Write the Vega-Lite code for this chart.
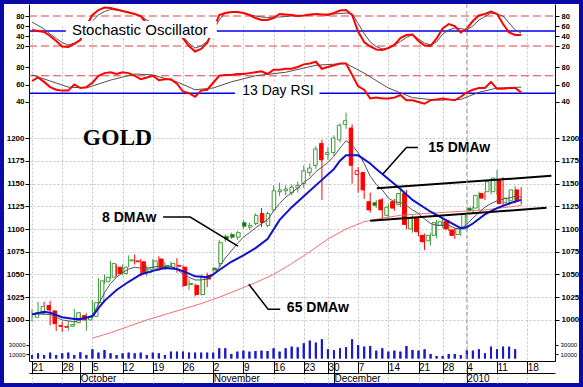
{
"$schema": "https://vega.github.io/schema/vega-lite/v6.json",
"width": 575, "height": 379,
"autosize": {"type": "none"},
"padding": 4,
"background": "#0a0aa8",
"config": {
  "view": {"fill": "#ffffff", "stroke": null},
  "axis": {"labelFont": "Liberation Sans", "labelColor": "#000000", "domainColor": "#000000", "tickColor": "#000000", "labelFlush": false, "labelOverlap": false, "labelBound": false, "grid": false}
},
"datasets": {
  "candles": [
    {"i":0,"o":1003,"h":1012,"l":998,"c":1008},{"i":1,"o":1007,"h":1020,"l":1004,"c":1015},{"i":2,"o":1016,"h":1020,"l":1006,"c":1011},{"i":3,"o":1010,"h":1021,"l":994,"c":996},{"i":4,"o":993,"h":999,"l":988,"c":994},{"i":5,"o":992,"h":998,"l":987,"c":993},{"i":6,"o":993,"h":999,"l":988,"c":995},{"i":7,"o":997,"h":1012,"l":994,"c":1008},{"i":8,"o":1005,"h":1008,"l":998,"c":1000},{"i":9,"o":1000,"h":1008,"l":988,"c":1004},
    {"i":10,"o":1004,"h":1022,"l":1002,"c":1019},{"i":11,"o":1019,"h":1046,"l":1017,"c":1043},{"i":12,"o":1042,"h":1050,"l":1040,"c":1047},{"i":13,"o":1047,"h":1065,"l":1045,"c":1062},{"i":14,"o":1058,"h":1061,"l":1048,"c":1051},{"i":15,"o":1051,"h":1061,"l":1049,"c":1058},{"i":16,"o":1065,"h":1071,"l":1058,"c":1066},{"i":17,"o":1064,"h":1072,"l":1061,"c":1065},{"i":18,"o":1064,"h":1067,"l":1048,"c":1051},{"i":19,"o":1052,"h":1060,"l":1048,"c":1056},
    {"i":20,"o":1056,"h":1067,"l":1053,"c":1065},{"i":21,"o":1067,"h":1070,"l":1054,"c":1057},{"i":22,"o":1058,"h":1064,"l":1055,"c":1060},{"i":23,"o":1058,"h":1064,"l":1056,"c":1062},{"i":24,"o":1059,"h":1068,"l":1052,"c":1060},{"i":25,"o":1058,"h":1060,"l":1036,"c":1038},{"i":26,"o":1039,"h":1045,"l":1033,"c":1040},{"i":27,"o":1038,"h":1040,"l":1026,"c":1028},{"i":28,"o":1028,"h":1050,"l":1027,"c":1048},{"i":29,"o":1049,"h":1052,"l":1036,"c":1045},
    {"i":30,"o":1057,"h":1058,"l":1052,"c":1055},{"i":31,"o":1062,"h":1088,"l":1058,"c":1085},{"i":32,"o":1092,"h":1094,"l":1086,"c":1089},{"i":33,"o":1094,"h":1096,"l":1089,"c":1091},{"i":34,"o":1091,"h":1098,"l":1088,"c":1096},{"i":35,"o":1107,"h":1110,"l":1100,"c":1103},{"i":36,"o":1102,"h":1107,"l":1099,"c":1104},{"i":37,"o":1106,"h":1117,"l":1104,"c":1115},{"i":38,"o":1117,"h":1123,"l":1102,"c":1107},{"i":39,"o":1104,"h":1119,"l":1102,"c":1117},
    {"i":40,"o":1121,"h":1148,"l":1119,"c":1142},{"i":41,"o":1141,"h":1151,"l":1136,"c":1143},{"i":42,"o":1142,"h":1148,"l":1137,"c":1144},{"i":43,"o":1140,"h":1149,"l":1137,"c":1146},{"i":44,"o":1145,"h":1152,"l":1140,"c":1148},{"i":45,"o":1150,"h":1170,"l":1145,"c":1164},{"i":46,"o":1162,"h":1172,"l":1158,"c":1167},{"i":47,"o":1170,"h":1191,"l":1166,"c":1188},{"i":48,"o":1194,"h":1198,"l":1132,"c":1176},{"i":49,"o":1182,"h":1190,"l":1176,"c":1184},
    {"i":50,"o":1184,"h":1203,"l":1180,"c":1200},{"i":51,"o":1198,"h":1216,"l":1195,"c":1214},{"i":52,"o":1215,"h":1228,"l":1210,"c":1219},{"i":53,"o":1211,"h":1215,"l":1150,"c":1170},{"i":54,"o":1160,"h":1168,"l":1140,"c":1164},{"i":55,"o":1162,"h":1163,"l":1133,"c":1143},{"i":56,"o":1130,"h":1140,"l":1118,"c":1121},{"i":57,"o":1129,"h":1132,"l":1123,"c":1126},{"i":58,"o":1132,"h":1134,"l":1110,"c":1121},{"i":59,"o":1115,"h":1128,"l":1112,"c":1124},
    {"i":60,"o":1130,"h":1133,"l":1120,"c":1123},{"i":61,"o":1127,"h":1145,"l":1124,"c":1139},{"i":62,"o":1139,"h":1143,"l":1100,"c":1105},{"i":63,"o":1100,"h":1115,"l":1096,"c":1112},{"i":64,"o":1112,"h":1114,"l":1092,"c":1097},{"i":65,"o":1093,"h":1095,"l":1077,"c":1086},{"i":66,"o":1087,"h":1096,"l":1082,"c":1093},{"i":67,"o":1093,"h":1110,"l":1090,"c":1107},{"i":68,"o":1104,"h":1111,"l":1101,"c":1108},{"i":69,"o":1108,"h":1110,"l":1098,"c":1100},
    {"i":70,"o":1099,"h":1101,"l":1089,"c":1093},{"i":71,"o":1094,"h":1102,"l":1092,"c":1100},{"i":72,"o":1100,"h":1118,"l":1098,"c":1116},{"i":73,"o":1123,"h":1125,"l":1118,"c":1120},{"i":74,"o":1123,"h":1141,"l":1120,"c":1137},{"i":75,"o":1139,"h":1141,"l":1132,"c":1134},{"i":76,"o":1141,"h":1155,"l":1138,"c":1152},{"i":77,"o":1141,"h":1165,"l":1138,"c":1156},{"i":78,"o":1154,"h":1157,"l":1125,"c":1128},{"i":79,"o":1129,"h":1137,"l":1126,"c":1134},
    {"i":80,"o":1131,"h":1147,"l":1128,"c":1143},{"i":81,"o":1143,"h":1146,"l":1127,"c":1131}
  ],
  "volume": [
    {"i":0,"v":7800},{"i":1,"v":11500},{"i":2,"v":7800},{"i":3,"v":13000},{"i":4,"v":7800},{"i":5,"v":11500},{"i":6,"v":13000},{"i":7,"v":7800},{"i":8,"v":13700},{"i":9,"v":7800},
    {"i":10,"v":20400},{"i":11,"v":13000},{"i":12,"v":18900},{"i":13,"v":11500},{"i":14,"v":7800},{"i":15,"v":11500},{"i":16,"v":13000},{"i":17,"v":11500},{"i":18,"v":13000},{"i":19,"v":7800},
    {"i":20,"v":13000},{"i":21,"v":11500},{"i":22,"v":7800},{"i":23,"v":15200},{"i":24,"v":15200},{"i":25,"v":15200},{"i":26,"v":13000},{"i":27,"v":13000},{"i":28,"v":13000},{"i":29,"v":13000},
    {"i":30,"v":13000},{"i":31,"v":22600},{"i":32,"v":22600},{"i":33,"v":10000},{"i":34,"v":15200},{"i":35,"v":17400},{"i":36,"v":15200},{"i":37,"v":16700},{"i":38,"v":17400},{"i":39,"v":16700},
    {"i":40,"v":22600},{"i":41,"v":15200},{"i":42,"v":22600},{"i":43,"v":26300},{"i":44,"v":24800},{"i":45,"v":33700},{"i":46,"v":39600},{"i":47,"v":35200},{"i":48,"v":42600},{"i":49,"v":20400},
    {"i":50,"v":18900},{"i":51,"v":22600},{"i":52,"v":24800},{"i":53,"v":42600},{"i":54,"v":30000},{"i":55,"v":26300},{"i":56,"v":27800},{"i":57,"v":17400},{"i":58,"v":22600},{"i":59,"v":15200},
    {"i":60,"v":17400},{"i":61,"v":15200},{"i":62,"v":27800},{"i":63,"v":18900},{"i":64,"v":17400},{"i":65,"v":20400},{"i":66,"v":10000},{"i":67,"v":5600},{"i":68,"v":5600},{"i":69,"v":10000},
    {"i":70,"v":10000},{"i":71,"v":7800},{"i":72,"v":18900},{"i":73,"v":17400},{"i":74,"v":20400},{"i":75,"v":11500},{"i":76,"v":26300},{"i":77,"v":20400},{"i":78,"v":26300},{"i":79,"v":26300},{"i":80,"v":20400}
  ],
  "dma8": [
    {"i":0,"v":1007},{"i":3,"v":1006},{"i":5,"v":1000},{"i":7,"v":998},{"i":9,"v":1002},{"i":10,"v":1005},{"i":11,"v":1017},{"i":12,"v":1030},{"i":13,"v":1040},{"i":14,"v":1047},{"i":15,"v":1052},{"i":16,"v":1056},{"i":17,"v":1058},{"i":18,"v":1057},{"i":19,"v":1057},{"i":20,"v":1058},{"i":21,"v":1059},{"i":22,"v":1059},{"i":23,"v":1059},{"i":24,"v":1056},{"i":25,"v":1050},{"i":26,"v":1047},{"i":27,"v":1044},{"i":28,"v":1044},{"i":29,"v":1045},{"i":30,"v":1049},{"i":31,"v":1058},{"i":32,"v":1068},{"i":33,"v":1076},{"i":34,"v":1084},{"i":35,"v":1091},{"i":36,"v":1096},{"i":37,"v":1101},{"i":38,"v":1106},{"i":39,"v":1110},{"i":40,"v":1120},{"i":41,"v":1128},{"i":42,"v":1135},{"i":43,"v":1140},{"i":44,"v":1145},{"i":45,"v":1151},{"i":46,"v":1156},{"i":47,"v":1163},{"i":48,"v":1168},{"i":49,"v":1173},{"i":50,"v":1180},{"i":51,"v":1189},{"i":52,"v":1197},{"i":53,"v":1192},{"i":54,"v":1184},{"i":55,"v":1172},{"i":56,"v":1158},{"i":57,"v":1149},{"i":58,"v":1143},{"i":59,"v":1134},{"i":60,"v":1130},{"i":61,"v":1129},{"i":62,"v":1126},{"i":63,"v":1121},{"i":64,"v":1117},{"i":65,"v":1111},{"i":66,"v":1106},{"i":67,"v":1104},{"i":68,"v":1104},{"i":69,"v":1104},{"i":70,"v":1101},{"i":71,"v":1100},{"i":72,"v":1105},{"i":73,"v":1112},{"i":74,"v":1118},{"i":75,"v":1124},{"i":76,"v":1128},{"i":77,"v":1131},{"i":78,"v":1133},{"i":79,"v":1134},{"i":80,"v":1136},{"i":81,"v":1135}
  ],
  "dma15": [
    {"i":0,"v":1006},{"i":2,"v":1009},{"i":3,"v":1008},{"i":5,"v":1003},{"i":7,"v":1001},{"i":8,"v":1001},{"i":10,"v":1004},{"i":11,"v":1013},{"i":12,"v":1021},{"i":14,"v":1033},{"i":16,"v":1042},{"i":18,"v":1050},{"i":20,"v":1054},{"i":22,"v":1057},{"i":24,"v":1056},{"i":26,"v":1051},{"i":27,"v":1048},{"i":29,"v":1047},{"i":30,"v":1050},{"i":31,"v":1055},{"i":33,"v":1064},{"i":35,"v":1071},{"i":37,"v":1079},{"i":39,"v":1089},{"i":41,"v":1110},{"i":43,"v":1124},{"i":45,"v":1136},{"i":48,"v":1154},{"i":50,"v":1166},{"i":51,"v":1175},{"i":52,"v":1181},{"i":54,"v":1181},{"i":56,"v":1172},{"i":57,"v":1166},{"i":59,"v":1155},{"i":61,"v":1144},{"i":63,"v":1132},{"i":66,"v":1119},{"i":69,"v":1108},{"i":71,"v":1101},{"i":72,"v":1102},{"i":73,"v":1106},{"i":75,"v":1116},{"i":77,"v":1123},{"i":79,"v":1128},{"i":81,"v":1132}
  ],
  "dma65": [
    {"i":10,"v":980},{"i":13,"v":986},{"i":16,"v":993},{"i":19,"v":1000},{"i":22,"v":1006},{"i":25,"v":1012},{"i":28,"v":1018},{"i":31,"v":1025},{"i":34,"v":1033},{"i":37,"v":1041},{"i":40,"v":1050},{"i":43,"v":1062},{"i":46,"v":1075},{"i":49,"v":1089},{"i":52,"v":1100},{"i":55,"v":1108},{"i":58,"v":1112},{"i":61,"v":1115},{"i":65,"v":1117},{"i":70,"v":1119},{"i":75,"v":1121},{"i":80,"v":1125},{"i":81,"v":1126}
  ],
  "stochK": [
    {"i":0,"v":52},{"i":1,"v":50},{"i":2,"v":48},{"i":3,"v":40},{"i":4,"v":30},{"i":5,"v":19},{"i":6,"v":18},{"i":7,"v":24},{"i":8,"v":32},{"i":9,"v":60},{"i":10,"v":82},{"i":11,"v":92},{"i":12,"v":97},{"i":13,"v":96},{"i":14,"v":93},{"i":15,"v":90},{"i":16,"v":87},{"i":17,"v":84},{"i":18,"v":80},{"i":19,"v":65},{"i":20,"v":62},{"i":21,"v":60},{"i":22,"v":58},{"i":23,"v":60},{"i":24,"v":52},{"i":25,"v":35},{"i":26,"v":20},{"i":27,"v":9},{"i":28,"v":14},{"i":29,"v":26},{"i":30,"v":52},{"i":31,"v":82},{"i":32,"v":86},{"i":33,"v":88},{"i":34,"v":88},{"i":35,"v":86},{"i":36,"v":82},{"i":37,"v":76},{"i":38,"v":72},{"i":39,"v":72},{"i":40,"v":76},{"i":41,"v":84},{"i":42,"v":83},{"i":43,"v":82},{"i":44,"v":80},{"i":45,"v":81},{"i":46,"v":83},{"i":47,"v":84},{"i":48,"v":83},{"i":49,"v":82},{"i":50,"v":86},{"i":51,"v":91},{"i":52,"v":92},{"i":53,"v":82},{"i":54,"v":49},{"i":55,"v":28},{"i":56,"v":19},{"i":57,"v":13},{"i":58,"v":12},{"i":59,"v":16},{"i":60,"v":22},{"i":61,"v":36},{"i":62,"v":42},{"i":63,"v":43},{"i":64,"v":30},{"i":65,"v":21},{"i":66,"v":20},{"i":67,"v":35},{"i":68,"v":55},{"i":69,"v":64},{"i":70,"v":60},{"i":71,"v":47},{"i":72,"v":55},{"i":73,"v":70},{"i":74,"v":81},{"i":75,"v":84},{"i":76,"v":89},{"i":77,"v":84},{"i":78,"v":64},{"i":79,"v":47},{"i":80,"v":42},{"i":81,"v":42}
  ],
  "stochD": [
    {"i":0,"v":68},{"i":1,"v":61},{"i":2,"v":54},{"i":3,"v":44},{"i":4,"v":35},{"i":5,"v":27},{"i":6,"v":22},{"i":7,"v":26},{"i":8,"v":33},{"i":9,"v":50},{"i":10,"v":70},{"i":11,"v":82},{"i":12,"v":89},{"i":13,"v":93},{"i":14,"v":92},{"i":15,"v":90},{"i":16,"v":88},{"i":17,"v":84},{"i":18,"v":80},{"i":19,"v":72},{"i":20,"v":66},{"i":21,"v":62},{"i":22,"v":60},{"i":23,"v":58},{"i":24,"v":55},{"i":25,"v":40},{"i":26,"v":25},{"i":27,"v":16},{"i":28,"v":20},{"i":29,"v":29},{"i":30,"v":50},{"i":31,"v":72},{"i":32,"v":86},{"i":33,"v":87},{"i":34,"v":88},{"i":35,"v":86},{"i":36,"v":83},{"i":37,"v":80},{"i":38,"v":78},{"i":39,"v":77},{"i":40,"v":78},{"i":41,"v":78},{"i":42,"v":79},{"i":43,"v":80},{"i":44,"v":80},{"i":45,"v":81},{"i":46,"v":82},{"i":47,"v":83},{"i":48,"v":83},{"i":49,"v":84},{"i":50,"v":84},{"i":51,"v":85},{"i":52,"v":86},{"i":53,"v":85},{"i":54,"v":65},{"i":55,"v":45},{"i":56,"v":28},{"i":57,"v":19},{"i":58,"v":14},{"i":59,"v":15},{"i":60,"v":22},{"i":61,"v":29},{"i":62,"v":37},{"i":63,"v":43},{"i":64,"v":34},{"i":65,"v":26},{"i":66,"v":22},{"i":67,"v":28},{"i":68,"v":44},{"i":69,"v":52},{"i":70,"v":56},{"i":71,"v":55},{"i":72,"v":52},{"i":73,"v":60},{"i":74,"v":72},{"i":75,"v":79},{"i":76,"v":86},{"i":77,"v":84},{"i":78,"v":80},{"i":79,"v":66},{"i":80,"v":52},{"i":81,"v":46}
  ],
  "rsi": [
    {"i":0,"v":64},{"i":1,"v":68},{"i":2,"v":63},{"i":3,"v":57},{"i":4,"v":54},{"i":5,"v":53},{"i":6,"v":53},{"i":7,"v":60},{"i":8,"v":56},{"i":9,"v":57},{"i":10,"v":62},{"i":11,"v":70},{"i":12,"v":73},{"i":13,"v":74},{"i":14,"v":72},{"i":15,"v":74},{"i":16,"v":73},{"i":17,"v":70},{"i":18,"v":66},{"i":19,"v":68},{"i":20,"v":70},{"i":21,"v":65},{"i":22,"v":66},{"i":23,"v":66},{"i":24,"v":61},{"i":25,"v":52},{"i":26,"v":50},{"i":27,"v":46},{"i":28,"v":53},{"i":29,"v":54},{"i":30,"v":62},{"i":31,"v":70},{"i":32,"v":71},{"i":33,"v":71},{"i":34,"v":72},{"i":35,"v":72},{"i":36,"v":73},{"i":37,"v":74},{"i":38,"v":75},{"i":39,"v":72},{"i":40,"v":77},{"i":41,"v":77},{"i":42,"v":78},{"i":43,"v":78},{"i":44,"v":80},{"i":45,"v":83},{"i":46,"v":84},{"i":47,"v":86},{"i":48,"v":78},{"i":49,"v":80},{"i":50,"v":82},{"i":51,"v":84},{"i":52,"v":84},{"i":53,"v":71},{"i":54,"v":58},{"i":55,"v":54},{"i":56,"v":44},{"i":57,"v":45},{"i":58,"v":44},{"i":59,"v":44},{"i":60,"v":45},{"i":61,"v":48},{"i":62,"v":42},{"i":63,"v":42},{"i":64,"v":40},{"i":65,"v":38},{"i":66,"v":42},{"i":67,"v":43},{"i":68,"v":44},{"i":69,"v":43},{"i":70,"v":42},{"i":71,"v":46},{"i":72,"v":51},{"i":73,"v":54},{"i":74,"v":56},{"i":75,"v":56},{"i":76,"v":63},{"i":77,"v":55},{"i":78,"v":55},{"i":79,"v":56},{"i":80,"v":56},{"i":81,"v":51}
  ],
  "rsiSig": [
    {"i":0,"v":71},{"i":3,"v":64},{"i":6,"v":57},{"i":9,"v":56},{"i":13,"v":65},{"i":17,"v":72},{"i":20,"v":71},{"i":24,"v":63},{"i":27,"v":54},{"i":30,"v":56},{"i":33,"v":63},{"i":37,"v":70},{"i":42,"v":74},{"i":47,"v":82},{"i":52,"v":84},{"i":55,"v":73},{"i":59,"v":56},{"i":63,"v":45},{"i":67,"v":42},{"i":71,"v":43},{"i":74,"v":51},{"i":77,"v":56},{"i":81,"v":57}
  ],
  "trend": [
    {"g":"upper","i":57.1,"p":1144.7},{"g":"upper","i":86.0,"p":1158.5},
    {"g":"lower","i":56.0,"p":1109},{"g":"lower","i":85.2,"p":1123.3}
  ],
  "leaders": [
    {"g":"8 DMAw","i":21.7,"p":1113.2},{"g":"8 DMAw","i":26.2,"p":1113.2},{"g":"8 DMAw","i":34.1,"p":1081.3},
    {"g":"15 DMAw","i":58.1,"p":1160.4},{"g":"15 DMAw","i":62.0,"p":1189.6},{"g":"15 DMAw","i":63.9,"p":1189.6},
    {"g":"65 DMAw","i":35.9,"p":1039.2},{"g":"65 DMAw","i":39.1,"p":1011.8},{"g":"65 DMAw","i":41.1,"p":1011.8}
  ]
},
"resolve": {"scale": {"x": "independent", "y": "independent"}, "axis": {"x": "independent", "y": "independent"}},
"layer": [
  {
    "data": {"values": [{"v": 80}, {"v": 20}]},
    "mark": {"type": "rule", "color": "#e04040", "strokeDash": [8, 4], "strokeWidth": 1},
    "encoding": {
      "x": {"datum": -0.5, "type": "quantitative", "scale": {"domain": [-0.5, 86.6], "range": [25, 551], "nice": false, "zero": false},
            "axis": {"orient": "bottom", "offset": -22, "values": [0,5,10,15,20,25,30,35,40,45,49,54,59,64,68,72,77,82], "domain": false, "ticks": false, "labels": false, "grid": true, "gridColor": "#c4c4c4", "gridDash": [2, 2], "title": null}},
      "x2": {"datum": 86.6},
      "y": {"field": "v", "type": "quantitative", "scale": {"domain": [-4, 104], "range": [54, 0], "nice": false, "zero": false},
            "axis": {"orient": "left", "offset": -25, "values": [20, 40, 60, 80], "format": "d", "tickSize": 4, "labelFontSize": 7.5, "labelFontWeight": "bold", "labelPadding": 1, "title": null}}
    }
  },
  {
    "data": {"values": [{"v": 50}]},
    "mark": {"type": "rule", "color": "#0000ee", "strokeWidth": 1.5},
    "encoding": {
      "x": {"datum": -0.5, "type": "quantitative", "scale": {"domain": [-0.5, 86.6], "range": [25, 551], "nice": false, "zero": false}, "axis": null},
      "x2": {"datum": 86.6},
      "y": {"field": "v", "type": "quantitative", "scale": {"domain": [-4, 104], "range": [54, 0], "nice": false, "zero": false},
            "axis": {"orient": "right", "offset": -24, "values": [20, 40, 60, 80], "format": "d", "tickSize": 4, "labelFontSize": 7.5, "labelFontWeight": "bold", "labelPadding": 2, "title": null}}
    }
  },
  {
    "data": {"name": "stochD"},
    "mark": {"type": "line", "color": "#505050", "strokeWidth": 1},
    "encoding": {
      "x": {"field": "i", "type": "quantitative", "scale": {"domain": [-0.5, 86.6], "range": [25, 551], "nice": false, "zero": false}, "axis": null},
      "y": {"field": "v", "type": "quantitative", "scale": {"domain": [-4, 104], "range": [54, 0], "nice": false, "zero": false}, "axis": null}
    }
  },
  {
    "data": {"name": "stochK"},
    "mark": {"type": "line", "color": "#ff0000", "strokeWidth": 2},
    "encoding": {
      "x": {"field": "i", "type": "quantitative", "scale": {"domain": [-0.5, 86.6], "range": [25, 551], "nice": false, "zero": false}, "axis": null},
      "y": {"field": "v", "type": "quantitative", "scale": {"domain": [-4, 104], "range": [54, 0], "nice": false, "zero": false}, "axis": null}
    }
  },
  {
    "data": {"values": [{}]},
    "mark": {"type": "rect", "fill": "#ffffff"},
    "encoding": {
      "x": {"datum": 5.6, "type": "quantitative", "scale": {"domain": [-0.5, 86.6], "range": [25, 551], "nice": false, "zero": false}, "axis": null},
      "x2": {"datum": 30.6},
      "y": {"datum": 36, "type": "quantitative", "scale": {"domain": [-4, 104], "range": [54, 0], "nice": false, "zero": false}, "axis": null},
      "y2": {"datum": 70}
    }
  },
  {
    "data": {"values": [{}]},
    "mark": {"type": "text", "text": "Stochastic Oscillator", "font": "Liberation Sans", "fontSize": 15, "align": "left", "baseline": "middle", "color": "#000000"},
    "encoding": {
      "x": {"datum": 6.6, "type": "quantitative", "scale": {"domain": [-0.5, 86.6], "range": [25, 551], "nice": false, "zero": false}, "axis": null},
      "y": {"datum": 52, "type": "quantitative", "scale": {"domain": [-4, 104], "range": [54, 0], "nice": false, "zero": false}, "axis": null}
    }
  },
  {
    "data": {"values": [{"v": 70}]},
    "mark": {"type": "rule", "color": "#e04040", "strokeDash": [8, 4], "strokeWidth": 1},
    "encoding": {
      "x": {"datum": -0.5, "type": "quantitative", "scale": {"domain": [-0.5, 86.6], "range": [25, 551], "nice": false, "zero": false},
            "axis": {"orient": "bottom", "offset": -22, "values": [0,5,10,15,20,25,30,35,40,45,49,54,59,64,68,72,77,82], "domain": false, "ticks": false, "labels": false, "grid": true, "gridColor": "#c4c4c4", "gridDash": [2, 2], "title": null}},
      "x2": {"datum": 86.6},
      "y": {"field": "v", "type": "quantitative", "scale": {"domain": [29.7, 90.3], "range": [107, 54], "nice": false, "zero": false},
            "axis": {"orient": "left", "offset": -25, "values": [40, 60, 80], "format": "d", "tickSize": 4, "labelFontSize": 7.5, "labelFontWeight": "bold", "labelPadding": 1, "title": null}}
    }
  },
  {
    "data": {"values": [{"v": 50}]},
    "mark": {"type": "rule", "color": "#0000ee", "strokeWidth": 1.5},
    "encoding": {
      "x": {"datum": -0.5, "type": "quantitative", "scale": {"domain": [-0.5, 86.6], "range": [25, 551], "nice": false, "zero": false}, "axis": null},
      "x2": {"datum": 86.6},
      "y": {"field": "v", "type": "quantitative", "scale": {"domain": [29.7, 90.3], "range": [107, 54], "nice": false, "zero": false},
            "axis": {"orient": "right", "offset": -24, "values": [40, 60, 80], "format": "d", "tickSize": 4, "labelFontSize": 7.5, "labelFontWeight": "bold", "labelPadding": 2, "title": null}}
    }
  },
  {
    "data": {"name": "rsiSig"},
    "mark": {"type": "line", "color": "#505050", "strokeWidth": 1},
    "encoding": {
      "x": {"field": "i", "type": "quantitative", "scale": {"domain": [-0.5, 86.6], "range": [25, 551], "nice": false, "zero": false}, "axis": null},
      "y": {"field": "v", "type": "quantitative", "scale": {"domain": [29.7, 90.3], "range": [107, 54], "nice": false, "zero": false}, "axis": null}
    }
  },
  {
    "data": {"name": "rsi"},
    "mark": {"type": "line", "color": "#ff0000", "strokeWidth": 2},
    "encoding": {
      "x": {"field": "i", "type": "quantitative", "scale": {"domain": [-0.5, 86.6], "range": [25, 551], "nice": false, "zero": false}, "axis": null},
      "y": {"field": "v", "type": "quantitative", "scale": {"domain": [29.7, 90.3], "range": [107, 54], "nice": false, "zero": false}, "axis": null}
    }
  },
  {
    "data": {"values": [{}]},
    "mark": {"type": "rect", "fill": "#ffffff"},
    "encoding": {
      "x": {"datum": 33.6, "type": "quantitative", "scale": {"domain": [-0.5, 86.6], "range": [25, 551], "nice": false, "zero": false}, "axis": null},
      "x2": {"datum": 47.6},
      "y": {"datum": 43, "type": "quantitative", "scale": {"domain": [29.7, 90.3], "range": [107, 54], "nice": false, "zero": false}, "axis": null},
      "y2": {"datum": 61}
    }
  },
  {
    "data": {"values": [{}]},
    "mark": {"type": "text", "text": "13 Day RSI", "font": "Liberation Sans", "fontSize": 14, "align": "left", "baseline": "middle", "color": "#000000"},
    "encoding": {
      "x": {"datum": 34.8, "type": "quantitative", "scale": {"domain": [-0.5, 86.6], "range": [25, 551], "nice": false, "zero": false}, "axis": null},
      "y": {"datum": 52.6, "type": "quantitative", "scale": {"domain": [29.7, 90.3], "range": [107, 54], "nice": false, "zero": false}, "axis": null}
    }
  },
  {
    "data": {"name": "candles"},
    "transform": [{"window": [{"op": "lag", "field": "c", "as": "pc"}], "sort": [{"field": "i", "order": "ascending"}]}],
    "mark": {"type": "rule", "strokeWidth": 1},
    "encoding": {
      "x": {"field": "i", "type": "quantitative", "scale": {"domain": [-0.5, 86.6], "range": [25, 551], "nice": false, "zero": false},
            "axis": {"orient": "bottom", "offset": -22, "values": [0,5,10,15,20,25,30,35,40,45,49,54,59,64,68,72,77,82], "domain": false, "ticks": false, "labels": false, "grid": true, "gridColor": "#c4c4c4", "gridDash": [2, 2], "title": null}},
      "y": {"field": "l", "type": "quantitative", "scale": {"domain": [978, 1229.7], "range": [336, 107], "nice": false, "zero": false},
            "axis": {"orient": "left", "offset": -25, "values": [1000,1025,1050,1075,1100,1125,1150,1175,1200], "format": "d", "tickSize": 4, "labelFontSize": 8, "labelFontWeight": "bold", "labelPadding": 1, "grid": true, "gridColor": "#c4c4c4", "gridDash": [2, 2], "title": null}},
      "y2": {"field": "h"},
      "color": {"condition": {"test": "datum.pc == null || datum.c >= datum.pc", "value": "#3c9a3c"}, "value": "#ff0000"}
    }
  },
  {
    "data": {"name": "candles"},
    "transform": [{"window": [{"op": "lag", "field": "c", "as": "pc"}], "sort": [{"field": "i", "order": "ascending"}]}],
    "mark": {"type": "bar", "size": 3.5, "strokeWidth": 1},
    "encoding": {
      "x": {"field": "i", "type": "quantitative", "scale": {"domain": [-0.5, 86.6], "range": [25, 551], "nice": false, "zero": false}, "axis": null},
      "y": {"field": "o", "type": "quantitative", "scale": {"domain": [978, 1229.7], "range": [336, 107], "nice": false, "zero": false},
            "axis": {"orient": "right", "offset": -24, "values": [1000,1025,1050,1075,1100,1125,1150,1175,1200], "format": "d", "tickSize": 4, "labelFontSize": 8, "labelFontWeight": "bold", "labelPadding": 2, "title": null}},
      "y2": {"field": "c"},
      "fill": {"condition": [{"test": "datum.c >= datum.o", "value": "#ffffff"}, {"test": "datum.pc == null || datum.c >= datum.pc", "value": "#0a6a0a"}], "value": "#ff0000"},
      "stroke": {"condition": {"test": "datum.pc == null || datum.c >= datum.pc", "value": "#3c9a3c"}, "value": "#ff0000"}
    }
  },
  {
    "data": {"name": "dma65"},
    "mark": {"type": "line", "color": "#f07070", "strokeWidth": 1},
    "encoding": {
      "x": {"field": "i", "type": "quantitative", "scale": {"domain": [-0.5, 86.6], "range": [25, 551], "nice": false, "zero": false}, "axis": null},
      "y": {"field": "v", "type": "quantitative", "scale": {"domain": [978, 1229.7], "range": [336, 107], "nice": false, "zero": false}, "axis": null}
    }
  },
  {
    "data": {"name": "dma8"},
    "mark": {"type": "line", "color": "#555555", "strokeWidth": 1},
    "encoding": {
      "x": {"field": "i", "type": "quantitative", "scale": {"domain": [-0.5, 86.6], "range": [25, 551], "nice": false, "zero": false}, "axis": null},
      "y": {"field": "v", "type": "quantitative", "scale": {"domain": [978, 1229.7], "range": [336, 107], "nice": false, "zero": false}, "axis": null}
    }
  },
  {
    "data": {"name": "dma15"},
    "mark": {"type": "line", "color": "#1010d0", "strokeWidth": 2},
    "encoding": {
      "x": {"field": "i", "type": "quantitative", "scale": {"domain": [-0.5, 86.6], "range": [25, 551], "nice": false, "zero": false}, "axis": null},
      "y": {"field": "v", "type": "quantitative", "scale": {"domain": [978, 1229.7], "range": [336, 107], "nice": false, "zero": false}, "axis": null}
    }
  },
  {
    "data": {"name": "trend"},
    "mark": {"type": "line", "color": "#000000", "strokeWidth": 2},
    "encoding": {
      "x": {"field": "i", "type": "quantitative", "scale": {"domain": [-0.5, 86.6], "range": [25, 551], "nice": false, "zero": false},
            "axis": {"orient": "bottom", "offset": -10, "domain": true, "ticks": false, "labels": false, "grid": false, "title": null}},
      "y": {"field": "p", "type": "quantitative", "scale": {"domain": [978, 1229.7], "range": [336, 107], "nice": false, "zero": false}, "axis": null},
      "detail": {"field": "g"}
    }
  },
  {
    "data": {"name": "leaders"},
    "mark": {"type": "line", "color": "#000000", "strokeWidth": 1.5},
    "encoding": {
      "x": {"field": "i", "type": "quantitative", "scale": {"domain": [-0.5, 86.6], "range": [25, 551], "nice": false, "zero": false}, "axis": null},
      "y": {"field": "p", "type": "quantitative", "scale": {"domain": [978, 1229.7], "range": [336, 107], "nice": false, "zero": false}, "axis": null},
      "detail": {"field": "g"}
    }
  },
  {
    "data": {"values": [{}]},
    "mark": {"type": "text", "text": "GOLD", "font": "Liberation Serif", "fontWeight": "bold", "fontSize": 23.5, "align": "center", "baseline": "alphabetic", "color": "#000000"},
    "encoding": {
      "x": {"datum": 14.15, "type": "quantitative", "scale": {"domain": [-0.5, 86.6], "range": [25, 551], "nice": false, "zero": false}, "axis": null},
      "y": {"datum": 1192.3, "type": "quantitative", "scale": {"domain": [978, 1229.7], "range": [336, 107], "nice": false, "zero": false}, "axis": null}
    }
  },
  {
    "data": {"values": [{}]},
    "mark": {"type": "text", "text": "8 DMAw", "font": "Liberation Sans", "fontWeight": "bold", "fontSize": 14, "align": "left", "baseline": "middle", "color": "#000000"},
    "encoding": {
      "x": {"datum": 11.6, "type": "quantitative", "scale": {"domain": [-0.5, 86.6], "range": [25, 551], "nice": false, "zero": false}, "axis": null},
      "y": {"datum": 1112.6, "type": "quantitative", "scale": {"domain": [978, 1229.7], "range": [336, 107], "nice": false, "zero": false}, "axis": null}
    }
  },
  {
    "data": {"values": [{}]},
    "mark": {"type": "text", "text": "15 DMAw", "font": "Liberation Sans", "fontWeight": "bold", "fontSize": 14, "align": "left", "baseline": "middle", "color": "#000000"},
    "encoding": {
      "x": {"datum": 65.6, "type": "quantitative", "scale": {"domain": [-0.5, 86.6], "range": [25, 551], "nice": false, "zero": false}, "axis": null},
      "y": {"datum": 1189, "type": "quantitative", "scale": {"domain": [978, 1229.7], "range": [336, 107], "nice": false, "zero": false}, "axis": null}
    }
  },
  {
    "data": {"values": [{}]},
    "mark": {"type": "text", "text": "65 DMAw", "font": "Liberation Sans", "fontWeight": "bold", "fontSize": 14, "align": "left", "baseline": "middle", "color": "#000000"},
    "encoding": {
      "x": {"datum": 42.2, "type": "quantitative", "scale": {"domain": [-0.5, 86.6], "range": [25, 551], "nice": false, "zero": false}, "axis": null},
      "y": {"datum": 1013.2, "type": "quantitative", "scale": {"domain": [978, 1229.7], "range": [336, 107], "nice": false, "zero": false}, "axis": null}
    }
  },
  {
    "data": {"name": "volume"},
    "mark": {"type": "rule", "color": "#1a1acc", "strokeWidth": 2},
    "encoding": {
      "x": {"field": "i", "type": "quantitative", "scale": {"domain": [-0.5, 86.6], "range": [25, 551], "nice": false, "zero": false},
            "axis": {"orient": "bottom", "offset": -22, "values": [0,5,10,15,20,25,30,35,40,45,49,54,59,64,68,72,77,82],
                     "labelExpr": "['21','28','5','12','19','26','2','9','16','23','30','7','14','21','28','4','11','18'][indexof([0,5,10,15,20,25,30,35,40,45,49,54,59,64,68,72,77,82], datum.value)]",
                     "tickSize": 12, "labelPadding": -6, "labelAlign": "left", "labelBaseline": "middle", "labelDx": 2, "labelFontSize": 10,
                     "grid": true, "gridColor": "#c4c4c4", "gridDash": [2, 2], "title": null}},
      "y": {"field": "v", "type": "quantitative", "scale": {"domain": [-5550, 41100], "range": [357, 336], "nice": false, "zero": false},
            "axis": {"orient": "left", "offset": -25, "values": [10000, 30000], "format": "d", "tickSize": 3, "labelFontSize": 6, "labelPadding": 1, "title": null}},
      "y2": {"datum": 0}
    }
  },
  {
    "data": {"name": "volume"},
    "mark": {"type": "rule", "color": "#1a1acc", "strokeWidth": 2},
    "encoding": {
      "x": {"field": "i", "type": "quantitative", "scale": {"domain": [-0.5, 86.6], "range": [25, 551], "nice": false, "zero": false}, "axis": null},
      "y": {"field": "v", "type": "quantitative", "scale": {"domain": [-5550, 41100], "range": [357, 336], "nice": false, "zero": false},
            "axis": {"orient": "right", "offset": -24, "values": [10000, 30000], "format": "d", "tickSize": 3, "labelFontSize": 6, "labelPadding": 2, "title": null}},
      "y2": {"datum": 0}
    }
  },
  {
    "data": {"values": [{"i": 72}]},
    "mark": {"type": "rule", "color": "#9a9a9a", "strokeWidth": 1, "strokeDash": [4, 3]},
    "encoding": {
      "x": {"field": "i", "type": "quantitative", "scale": {"domain": [-0.5, 86.6], "range": [25, 551], "nice": false, "zero": false},
            "axis": {"orient": "bottom", "offset": -22, "values": [8, 30, 50, 72],
                     "labelExpr": "['October','November','December','2010'][indexof([8,30,50,72], datum.value)]",
                     "tickSize": 22, "labelPadding": -5, "labelAlign": "left", "labelBaseline": "middle", "labelDx": 2, "labelFontSize": 10,
                     "domain": false, "grid": false, "title": null}}
    }
  }
]
}
